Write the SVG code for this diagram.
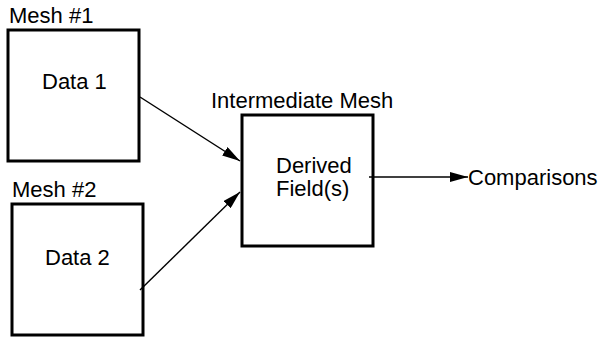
<svg xmlns="http://www.w3.org/2000/svg" width="601" height="339" viewBox="0 0 601 339">
<style>
.box{fill:#fff;stroke:#000;stroke-width:3}
.t{font-family:"Liberation Sans",Arial,sans-serif;font-size:22px;fill:#000}
.c{stroke:#000;stroke-width:1.4;fill:none}
</style>
<defs>
<marker id="ah" viewBox="0 0 18 10" refX="18" refY="5" markerWidth="18" markerHeight="10" markerUnits="userSpaceOnUse" orient="auto">
<path d="M0,0 L18,5 L0,10 Z" fill="#000"/>
</marker>
</defs>
<rect width="601" height="339" fill="#fff"/>
<g id="mesh1">
<text class="t" x="9" y="23">Mesh #1</text>
<rect class="box" x="8" y="30" width="131" height="131"/>
<text class="t" x="42" y="89">Data 1</text>
</g>
<g id="mesh2">
<text class="t" x="12" y="197">Mesh #2</text>
<rect class="box" x="12" y="204" width="131" height="131"/>
<text class="t" x="45" y="265">Data 2</text>
</g>
<g id="intermediate">
<text class="t" x="211" y="108">Intermediate Mesh</text>
<rect class="box" x="242" y="115" width="131" height="131"/>
<text class="t" x="276" y="173">Derived</text>
<text class="t" x="276" y="196">Field(s)</text>
</g>
<g id="comparisons">
<text class="t" x="468" y="185">Comparisons</text>
</g>
<g id="connectors">
<line class="c" x1="140" y1="97" x2="240" y2="161" marker-end="url(#ah)"/>
<line class="c" x1="140" y1="290" x2="240" y2="192" marker-end="url(#ah)"/>
<line class="c" x1="369" y1="177" x2="468" y2="177" marker-end="url(#ah)"/>
</g>
</svg>
